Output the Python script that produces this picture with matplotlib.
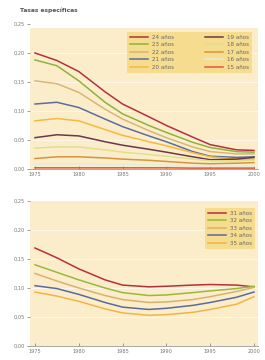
import matplotlib
matplotlib.use("Agg")
import matplotlib.pyplot as plt

years = [1975, 1977.5, 1980, 1983, 1985, 1988, 1990, 1993, 1995, 1998, 2000]

top_labels = ["24 años", "23 años", "22 años", "21 años", "20 años",
              "19 años", "18 años", "17 años", "16 años", "15 años"]
a24 = [.200, .187, .168, .133, .112, .090, .075, .055, .042, .033, .032]
a23 = [.188, .178, .152, .115, .095, .075, .063, .046, .037, .030, .029]
a22 = [.152, .147, .132, .103, .086, .066, .054, .038, .030, .026, .026]
a21 = [.112, .115, .106, .086, .073, .057, .047, .030, .022, .020, .021]
a20 = [.083, .087, .083, .068, .058, .047, .040, .028, .021, .017, .017]
a19 = [.054, .059, .057, .047, .041, .034, .029, .021, .016, .017, .020]
a18 = [.036, .038, .038, .033, .029, .025, .022, .017, .014, .014, .015]
a17 = [.018, .021, .021, .019, .017, .015, .013, .010, .009, .010, .011]
a16 = [.008, .009, .009, .008, .008, .007, .006, .005, .005, .005, .005]
a15 = [.002, .002, .002, .002, .002, .002, .002, .0015, .0015, .0015, .0015]
top_series = [a24, a23, a22, a21, a20, a19, a18, a17, a16, a15]
top_colors = ["#b2323c", "#8fb23c", "#d8b677", "#5c6c9c", "#f2bb3e",
              "#6b3848", "#dfe08e", "#d8943c", "#e4ecdc", "#e2573c"]

bot_labels = ["31 años", "32 años", "33 años", "34 años", "35 años"]
a31 = [.169, .152, .133, .114, .105, .102, .103, .105, .106, .105, .102]
a32 = [.140, .127, .114, .100, .092, .087, .088, .092, .095, .099, .103]
a33 = [.125, .112, .100, .087, .080, .075, .076, .080, .085, .094, .101]
a34 = [.104, .099, .089, .075, .067, .063, .065, .070, .075, .084, .093]
a35 = [.093, .086, .077, .064, .057, .053, .054, .058, .063, .072, .085]
bot_series = [a31, a32, a33, a34, a35]
bot_colors = ["#b2323c", "#9ab83c", "#d8b26c", "#5a6a9a", "#f2b446"]

xticks = [1975, 1980, 1985, 1990, 1995, 2000]
yticks = [0.00, 0.05, 0.10, 0.15, 0.20, 0.25]
ylabels = ["0,00", "0,05", "0,10", "0,15", "0,20", "0,25"]

fig = plt.figure(figsize=(2.65, 3.6), dpi=100)
fig.patch.set_facecolor("white")
ax1 = fig.add_axes([0.1132, 0.5306, 0.8604, 0.4028])
ax2 = fig.add_axes([0.1132, 0.0389, 0.8604, 0.4028])

def style(ax, top):
    ax.set_facecolor("white")
    ax.axhspan(0, top, color="#fcedca", zorder=0, lw=0)
    ax.set_xlim(1974.43, 2000.46)
    ax.set_ylim(0, 0.25)
    ax.set_xticks(xticks)
    ax.set_yticks(yticks)
    ax.set_yticklabels(ylabels)
    for s in ["top", "right", "left"]:
        ax.spines[s].set_visible(False)
    ax.spines["bottom"].set_color("#9a9a9a")
    ax.spines["bottom"].set_linewidth(0.6)
    ax.tick_params(axis="both", labelsize=3.6, colors="#777777", length=2, width=0.5, pad=1.5)
    ax.tick_params(axis="x", direction="in", pad=2.5)
    for y in yticks[1:]:
        if y < top:
            ax.axhline(y, color="white", lw=0.6, alpha=0.7, zorder=0.5)

style(ax1, 0.243)
style(ax2, 0.25)

for vals, lab, col in zip(top_series, top_labels, top_colors):
    ax1.plot(years, vals, color=col, lw=1.1, label=lab)
for vals, lab, col in zip(bot_series, bot_labels, bot_colors):
    ax2.plot(years, vals, color=col, lw=1.1, label=lab)

leg1 = ax1.legend(ncol=2, loc="upper right", fontsize=4, frameon=True,
                  fancybox=False, handlelength=3.25, columnspacing=5.5,
                  labelspacing=0.45, borderpad=0.5, borderaxespad=0,
                  bbox_to_anchor=(0.974, 0.945))
leg1.get_frame().set_facecolor("#f6dc8e")
leg1.get_frame().set_edgecolor("none")
leg1.get_frame().set_alpha(1)
for t in leg1.get_texts():
    t.set_color("#666666")

leg2 = ax2.legend(loc="upper right", fontsize=4, frameon=True,
                  fancybox=False, handlelength=3.25, labelspacing=0.45,
                  borderpad=0.5, borderaxespad=0,
                  bbox_to_anchor=(0.987, 0.952))
leg2.get_frame().set_facecolor("#f6dc8e")
leg2.get_frame().set_edgecolor("none")
leg2.get_frame().set_alpha(1)
for t in leg2.get_texts():
    t.set_color("#666666")

fig.text(20 / 265, 1 - 10 / 360, "Tasas específicas", fontsize=4.3, fontweight="bold",
         color="#555555", va="center", ha="left")

fig.savefig("out.png", dpi=100, facecolor="white")
